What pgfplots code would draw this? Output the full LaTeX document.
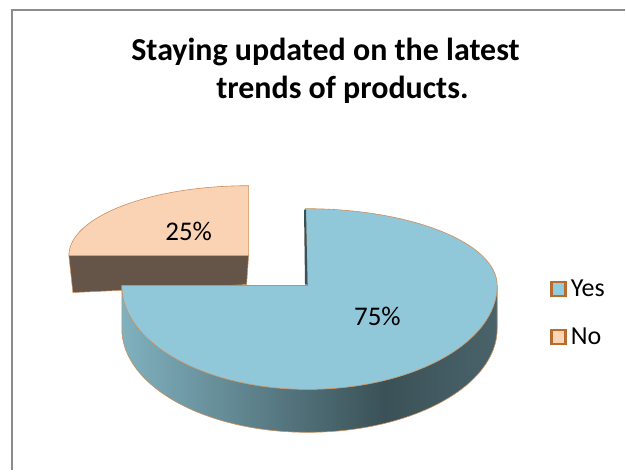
\documentclass[border=0pt]{standalone}
\usepackage{fontspec}
\setmainfont{Carlito}
\usepackage{pgfplots}
\usepackage{pgfplotstable}
\pgfplotsset{compat=1.18}
\definecolor{blueTop}{HTML}{90C8DA}
\definecolor{blueL}{HTML}{80B1BF}
\definecolor{blueD}{HTML}{3A5157}
\definecolor{blueR}{HTML}{4A636A}
\definecolor{peach}{HTML}{FAD3B5}
\definecolor{brownSide}{HTML}{655548}
\definecolor{edgeC}{HTML}{CD8E5A}
\definecolor{legB}{HTML}{B96C30}
\definecolor{legYes}{HTML}{92CDDD}
\definecolor{legNo}{HTML}{FCD5B5}
\definecolor{frameC}{HTML}{8C8C8C}
\pgfdeclarehorizontalshading{bluesideshade}{100bp}{color(0bp)=(blueL); color(25bp)=(blueL); color(60bp)=(blueD); color(75bp)=(blueR); color(100bp)=(blueR)}
\pgfplotstableread{
label value
Yes 75
No 25
}\piedata
\begin{document}%
\begin{tikzpicture}
\pgfplotstablegetelem{0}{value}\of\piedata \let\valYes\pgfplotsretval
\pgfplotstablegetelem{1}{value}\of\piedata \let\valNo\pgfplotsretval
\pgfmathsetmacro\fracYes{\valYes/(\valYes+\valNo)}
\pgfmathsetmacro\fracNo{\valNo/(\valYes+\valNo)}
\pgfmathsetmacro\endYes{90-360*\fracYes}
\pgfmathsetmacro\endNo{\endYes-360*\fracNo}
\pgfmathtruncatemacro\pctYes{round(100*\fracYes)}
\pgfmathtruncatemacro\pctNo{round(100*\fracNo)}
\begin{axis}[
  width=626pt, height=471pt, scale only axis,
  xmin=0, xmax=626, ymin=0, ymax=471, y dir=reverse,
  hide axis, clip=false,
  legend style={at={(axis cs:551,279)}, anchor=north west, draw=none, fill=none,
    font=\fontsize{26}{26}\selectfont, row sep=28pt, inner sep=0pt,
    nodes={text height=18pt, text depth=2pt, inner sep=0pt}},
  legend cell align=left,
]
\path (axis cs:0,0) rectangle (axis cs:626,471);
\addlegendimage{legend image code/.code={\draw[line width=2.2pt, draw=legB, fill=legYes] (0pt,-7pt) rectangle (14pt,7pt);}}
\addlegendentry{\,Yes}
\addlegendimage{legend image code/.code={\draw[line width=2.2pt, draw=legB, fill=legNo] (0pt,-7pt) rectangle (14pt,7pt);}}
\addlegendentry{\,No}
% frame
\draw[frameC, line width=2pt] (axis cs:12,471) -- (axis cs:12,10) -- (axis cs:626,10);
% No slice (exploded)
\fill[brownSide, draw=edgeC, line width=0.5pt] (axis cs:69,256) -- (axis cs:249,256) -- (axis cs:247,285) -- (axis cs:73,293) -- cycle;
\filldraw[fill=peach, draw=edgeC, line width=0.6pt] (axis cs:249,256) -- (axis cs:69,256)
  arc[start angle=\endYes+360, end angle=\endNo+360, x radius=180pt, y radius=70pt] -- cycle;
% Yes slice side
\shade[shading=bluesideshade] (axis cs:122,286)
  arc[start angle=180, end angle=270, x radius=186pt, y radius=104pt]
  arc[start angle=270, end angle=360, x radius=190pt, y radius=104pt]
  -- (axis cs:498,329)
  arc[start angle=0, end angle=-90, x radius=190pt, y radius=104pt]
  arc[start angle=-90, end angle=-180, x radius=186pt, y radius=104pt] -- cycle;
\draw[edgeC, line width=0.6pt] (axis cs:498,286) -- (axis cs:498,329)
  arc[start angle=0, end angle=-90, x radius=190pt, y radius=104pt]
  arc[start angle=-90, end angle=-180, x radius=186pt, y radius=104pt] -- (axis cs:122,286);
% Yes slice top
\filldraw[fill=blueTop, draw=edgeC, line width=0.6pt] (axis cs:308,286) -- (axis cs:306,209)
  arc[start angle=90, end angle=0, x radius=192pt, y radius=77pt]
  arc[start angle=0, end angle=-90, x radius=190pt, y radius=104pt]
  arc[start angle=-90, end angle=\endYes, x radius=186pt, y radius=104pt] -- cycle;
\fill[blueD] (axis cs:304.5,210) -- (axis cs:306.5,210) -- (axis cs:308,285) -- (axis cs:305.5,285) -- cycle;
% labels
\node[anchor=center, font=\fontsize{27}{27}\selectfont] at (axis cs:189,232) {\pctNo\%};
\node[anchor=center, font=\fontsize{27}{27}\selectfont] at (axis cs:378,317) {\pctYes\%};
% title
\node[anchor=base, inner sep=0pt, font=\fontsize{32}{32}\selectfont\bfseries] at (axis cs:326,60.5) {Staying updated on the latest};
\node[anchor=base, inner sep=0pt, font=\fontsize{32}{32}\selectfont\bfseries] at (axis cs:343,99) {trends of products.};
\end{axis}
\end{tikzpicture}%
\end{document}
